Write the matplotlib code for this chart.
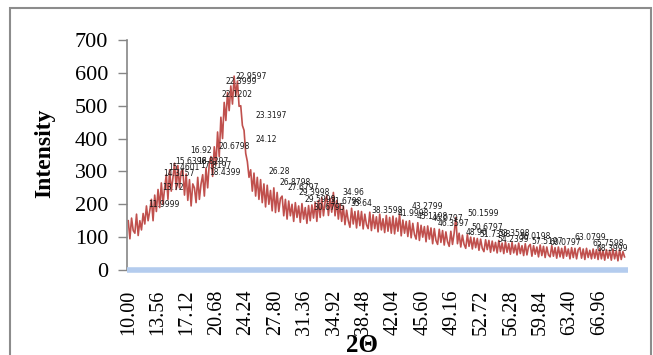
import numpy as np
import matplotlib
matplotlib.use("Agg")
import matplotlib.pyplot as plt
from matplotlib.patches import Rectangle

# ---- data ----
two_theta_start = 10.0
two_theta_end = 70.0
intensity = [
    150,95,158,120,112,170,105,150,122,172,
    140,195,150,180,215,150,228,178,245,190,
    265,200,250,290,215,305,240,280,325,245,
    318,250,300,305,228,292,212,275,195,262,
    250,205,282,215,262,290,225,310,250,325,
    345,285,375,320,420,345,465,400,510,455,
    540,485,560,505,590,530,575,498,500,440,
    425,355,330,282,305,240,295,225,282,215,
    275,205,262,192,258,200,242,180,250,175,
    236,178,218,225,165,215,155,210,165,200,
    148,205,160,195,145,202,155,190,142,196,
    150,198,158,206,148,212,160,220,165,208,
    226,166,218,176,236,165,212,155,202,148,
    195,138,182,150,130,188,140,178,128,180,
    135,178,125,170,138,126,176,120,168,126,
    162,116,170,122,156,114,166,118,160,112,
    164,110,158,118,170,104,152,112,148,102,
    150,98,142,108,94,144,90,136,100,132,
    86,134,94,128,80,126,90,78,124,84,
    120,76,116,86,72,118,78,112,160,80,
    112,70,106,78,66,108,72,100,64,98,
    68,96,60,94,66,56,92,62,90,54,
    88,58,84,52,90,56,82,50,86,54,
    80,48,84,52,76,46,82,50,74,44,
    80,46,72,78,42,74,48,70,40,76,
    44,72,38,70,46,40,74,42,68,36,
    70,40,66,36,72,42,64,34,68,38,
    66,34,62,68,36,64,32,66,38,60,
    34,64,36,62,32,66,34,60,30,62,
    36,60,30,64,34,58,28,62,32,56,
    40,
]
two_theta = np.linspace(two_theta_start, two_theta_end, len(intensity))

x_tick_values = [10.00, 13.56, 17.12, 20.68, 24.24, 27.80, 31.36, 34.92, 38.48,
                 42.04, 45.60, 49.16, 52.72, 56.28, 59.84, 63.40, 66.96]
y_tick_values = [0, 100, 200, 300, 400, 500, 600, 700]

peak_labels = ["11.9999", "13.72", "14.3157", "15.4601", "15.6398", "16.8297",
               "17.8197", "16.92", "18.4399", "20.6798", "22.1202", "22.3999",
               "22.9597", "23.3197", "24.12", "26.28", "26.8798", "27.6797",
               "29.3998", "29.5999", "30.6795", "31.6798", "34.96", "35.64",
               "38.3598", "41.9998", "43.2799", "45.1198", "46.0797", "46.3597",
               "48.96", "50.1599", "50.6797", "51.7398", "53.3598", "54.2399",
               "56.0198", "57.5197", "60.0797", "63.0799", "65.7598", "68.3999"]
label_x = [12.41, 14.10, 14.22, 14.83, 15.67, 18.30, 18.70, 17.50, 19.78, 20.86,
           21.23, 21.71, 22.92, 25.33, 25.33, 26.90, 28.23, 29.20, 30.53, 31.26,
           32.35, 34.40, 35.85, 36.82, 39.41, 42.55, 44.24, 44.84, 46.65, 47.37,
           50.80, 51.05, 51.53, 52.50, 54.80, 54.68, 57.33, 58.78, 60.95, 63.97,
           66.14, 66.62]
label_y = [199, 251, 294, 312, 330, 330, 318, 364, 297, 376,
           535, 575, 590, 471, 398, 300, 266, 251, 235, 214,
           190, 208, 235, 202, 180, 171, 193, 162, 156, 141,
           113, 171, 128, 107, 110, 92, 101, 86, 83, 98,
           80, 65]

# ---- figure ----
fig = plt.figure(figsize=(6.53, 3.55), dpi=100)
ax = fig.add_axes([0.1945, 0.2394, 0.767, 0.648])

ax.plot(two_theta, intensity, color="#C0504D", linewidth=1.2)

for txt, lx, ly in zip(peak_labels, label_x, label_y):
    ax.text(lx, ly, txt, fontsize=5.5, color="#1a1a1a", ha="left", va="center",
            family="DejaVu Sans")

ax.set_xlim(9.85, 70.4)
ax.set_ylim(0, 700)
ax.set_xticks(x_tick_values)
ax.set_xticklabels([f"{v:.2f}" for v in x_tick_values], rotation=90,
                   family="Liberation Serif", fontsize=14.5)
ax.set_yticks(y_tick_values)
ax.set_yticklabels([str(v) for v in y_tick_values], family="Liberation Serif",
                   fontsize=16)
ax.tick_params(axis="x", length=0, pad=14)
ax.tick_params(axis="y", length=6.5, width=1, color="#868686", pad=7)

for s in ["top", "right"]:
    ax.spines[s].set_visible(False)
ax.spines["left"].set_color("#868686")
ax.spines["left"].set_linewidth(1.2)
ax.spines["bottom"].set_color("#B4CCEE")
ax.spines["bottom"].set_linewidth(4)
ax.spines["bottom"].set_capstyle("butt")

fig.text(0.069, 0.569, "Intensity", rotation=90, ha="center", va="center",
         family="Liberation Serif", fontweight="bold", fontsize=17)
fig.text(0.554, 0.028, "2Θ", ha="center", va="center",
         family="Liberation Serif", fontweight="bold", fontsize=18)

fig.patches.append(Rectangle((10 / 653, -0.1), 641 / 653, 1.1 - 8 / 355,
                             transform=fig.transFigure, fill=False,
                             edgecolor="#8c8c8c", linewidth=1.5))

fig.savefig("out.png", dpi=100)
